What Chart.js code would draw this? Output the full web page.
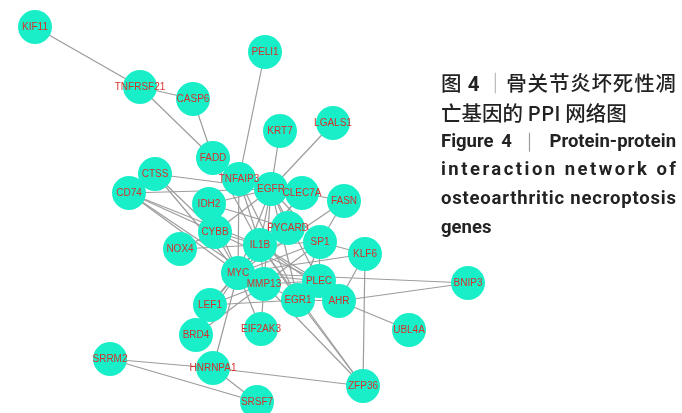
<!DOCTYPE html>
<html>
<head>
<meta charset="utf-8">
<script src="https://cdn.jsdelivr.net/npm/chart.js@4/dist/chart.umd.min.js"></script>
<style>
  html, body { margin: 0; padding: 0; background: #fff; }
  #wrap { position: relative; width: 682px; height: 413px; overflow: hidden; }
  #net { position: absolute; left: 0; top: 0; }
  .ln { position: absolute; left: 441px; width: 235px; white-space: nowrap; color: #222; }
  .zh { font-family: "Noto Sans CJK SC", "Noto Sans", sans-serif; font-size: 20.5px; line-height: 24px; font-weight: 500; }
  .en { font-family: Roboto, "Noto Sans", sans-serif; font-weight: 700; font-size: 18.5px; line-height: 22px; }
  .j { text-align: justify; text-align-last: justify; }
  .bar { color: #9a9a9a; font-weight: 300; }
</style>
</head>
<body>
<div id="wrap">
  <canvas id="net" width="682" height="413"></canvas>
  <div class="ln zh j" style="top:70px">图 <b style="font-family:Roboto,sans-serif">4</b> <span class="bar">｜</span>骨关节炎坏死性凋</div>
  <div class="ln zh" style="top:100px">亡基因的 PPI 网络图</div>
  <div class="ln en j" style="top:130px">Figure 4 <span class="bar">｜</span> Protein-protein</div>
  <div class="ln en spread" style="top:158px">interaction network of</div>
  <div class="ln en spread" style="top:187px">osteoarthritic necroptosis</div>
  <div class="ln en" style="top:216px">genes</div>
</div>
<script>
// Gene nodes and their layout coordinates (network layout space, 682 x 413)
const geneNames = [
  'KIF11', 'TNFRSF21', 'CASP6', 'PELI1', 'KRT7', 'LGALS1', 'FADD', 'CTSS', 'CD74',
  'TNFAIP3', 'EGFR', 'CLEC7A', 'FASN', 'IDH2', 'CYBB', 'PYCARD', 'IL1B', 'SP1',
  'NOX4', 'KLF6', 'MYC', 'MMP13', 'PLEC', 'EGR1', 'AHR', 'BNIP3', 'LEF1', 'BRD4',
  'EIF2AK3', 'UBL4A', 'SRRM2', 'HNRNPA1', 'ZFP36', 'SRSF7'
];
const geneX = [
  35, 140, 193, 265, 280, 333, 213, 155, 129,
  239, 271, 302, 344, 209, 215, 288, 260, 320,
  180, 365, 238, 264, 319, 298, 339, 468, 210, 196,
  261, 409, 110, 213, 363, 257
];
const geneY = [
  27, 87, 99, 52, 131, 123, 158, 174, 193,
  179, 189, 193, 201, 204, 232, 228, 245, 242,
  249, 254, 273, 284, 281, 300, 301, 283, 305, 335,
  329, 330, 359, 368, 386, 402
];

// Protein-protein interactions
const interactions = [
  ['KIF11', 'TNFRSF21'], ['TNFRSF21', 'CASP6'], ['TNFRSF21', 'FADD'], ['CASP6', 'FADD'],
  ['PELI1', 'TNFAIP3'], ['KRT7', 'EGFR'], ['LGALS1', 'EGFR'], ['FADD', 'TNFAIP3'], ['FADD', 'IL1B'],
  ['CTSS', 'EGFR'], ['CTSS', 'CYBB'], ['CTSS', 'MYC'],
  ['CD74', 'EGFR'], ['CD74', 'CYBB'], ['CD74', 'MYC'], ['CD74', 'IL1B'], ['CD74', 'MMP13'],
  ['IDH2', 'EGFR'], ['IDH2', 'CYBB'], ['IDH2', 'MYC'], ['IDH2', 'PYCARD'],
  ['CYBB', 'NOX4'], ['CYBB', 'IL1B'], ['CYBB', 'EGFR'], ['CYBB', 'PLEC'], ['CYBB', 'MYC'],
  ['NOX4', 'IL1B'],
  ['TNFAIP3', 'IL1B'], ['TNFAIP3', 'MYC'], ['TNFAIP3', 'EGR1'], ['TNFAIP3', 'EGFR'],
  ['EGFR', 'CLEC7A'], ['EGFR', 'MYC'], ['EGFR', 'IL1B'], ['EGFR', 'SP1'], ['EGFR', 'PLEC'],
  ['EGFR', 'EGR1'], ['EGFR', 'MMP13'], ['EGFR', 'PYCARD'],
  ['CLEC7A', 'FASN'], ['CLEC7A', 'IL1B'], ['CLEC7A', 'MYC'],
  ['PYCARD', 'IL1B'], ['PYCARD', 'MYC'],
  ['FASN', 'SP1'], ['FASN', 'MYC'],
  ['SP1', 'KLF6'], ['SP1', 'MYC'], ['SP1', 'IL1B'], ['SP1', 'PLEC'], ['SP1', 'EGR1'], ['SP1', 'MMP13'],
  ['KLF6', 'MYC'], ['KLF6', 'AHR'], ['KLF6', 'ZFP36'],
  ['IL1B', 'MYC'], ['IL1B', 'MMP13'], ['IL1B', 'PLEC'], ['IL1B', 'EGR1'], ['IL1B', 'ZFP36'], ['IL1B', 'AHR'],
  ['MYC', 'MMP13'], ['MYC', 'PLEC'], ['MYC', 'EGR1'], ['MYC', 'LEF1'], ['MYC', 'BRD4'],
  ['MYC', 'EIF2AK3'], ['MYC', 'HNRNPA1'], ['MYC', 'BNIP3'],
  ['MMP13', 'EIF2AK3'], ['MMP13', 'ZFP36'], ['MMP13', 'PLEC'], ['MMP13', 'LEF1'], ['MMP13', 'BRD4'],
  ['PLEC', 'EGR1'], ['PLEC', 'AHR'],
  ['EGR1', 'AHR'], ['EGR1', 'ZFP36'], ['EGR1', 'LEF1'],
  ['AHR', 'BNIP3'], ['AHR', 'UBL4A'],
  ['LEF1', 'IL1B'],
  ['HNRNPA1', 'ZFP36'], ['HNRNPA1', 'SRSF7'], ['HNRNPA1', 'SRRM2'], ['SRRM2', 'SRSF7']
];

const NODE_COLOR = '#18efc8';
const EDGE_COLOR = '#9c9c9c';
const LABEL_COLOR = '#d6302c';

const pos = {};
geneNames.forEach((g, i) => { pos[g] = { x: geneX[i], y: geneY[i] }; });

const edgeSets = interactions.map(([a, b]) => ({
  data: [pos[a], pos[b]],
  showLine: true,
  borderColor: EDGE_COLOR,
  borderWidth: 1.2,
  pointRadius: 0,
  pointHoverRadius: 0,
  order: 2
}));

const nodeSet = {
  data: geneNames.map((g, i) => ({ x: geneX[i], y: geneY[i] })),
  pointRadius: 17,
  pointHoverRadius: 17,
  pointBackgroundColor: NODE_COLOR,
  pointBorderWidth: 0,
  borderWidth: 0,
  showLine: false,
  order: 1
};

// Gene symbols drawn centred on each node
const geneLabels = {
  id: 'geneLabels',
  afterDatasetsDraw(chart) {
    const meta = chart.getDatasetMeta(chart.data.datasets.length - 1);
    const ctx = chart.ctx;
    ctx.save();
    ctx.font = '10px "Liberation Sans", Arial, sans-serif';
    ctx.fillStyle = LABEL_COLOR;
    ctx.textAlign = 'center';
    ctx.textBaseline = 'middle';
    meta.data.forEach((pt, i) => {
      ctx.fillText(geneNames[i], pt.x, pt.y);
    });
    ctx.restore();
  }
};

new Chart(document.getElementById('net'), {
  type: 'scatter',
  data: { datasets: [...edgeSets, nodeSet] },
  options: {
    responsive: false,
    animation: false,
    events: [],
    clip: false,
    layout: { padding: 0, autoPadding: false },
    scales: {
      x: { type: 'linear', min: 0, max: 682, display: false },
      y: { type: 'linear', min: 0, max: 413, reverse: true, display: false }
    },
    plugins: { legend: { display: false }, tooltip: { enabled: false } }
  },
  plugins: [geneLabels]
});

// Letter-spaced caption lines stretched to the caption width
document.querySelectorAll('.spread').forEach(el => {
  const txt = el.textContent;
  const probe = document.createElement('span');
  probe.textContent = txt;
  probe.style.whiteSpace = 'nowrap';
  el.textContent = '';
  el.appendChild(probe);
  const natural = probe.getBoundingClientRect().width;
  const target = el.getBoundingClientRect().width;
  const gap = (target - natural) / (txt.length - 1);
  el.textContent = txt;
  el.style.letterSpacing = gap + 'px';
  el.style.width = (target + gap) + 'px';
});
</script>
</body>
</html>
